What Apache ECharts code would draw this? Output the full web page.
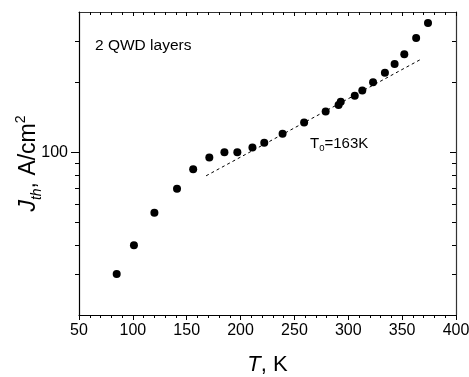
<!DOCTYPE html>
<html>
<head>
<meta charset="utf-8">
<script src="https://cdn.jsdelivr.net/npm/echarts@6/dist/echarts.min.js"></script>
<style>html,body{margin:0;padding:0;background:#fff}#c{width:469px;height:377px}</style>
</head>
<body>
<div id="c"></div>
<script>
// Measured data: temperature T (K) and threshold current density Jth (A/cm^2)
var temps = [85, 101, 120, 141, 156, 171, 185, 197, 211, 222, 239, 259, 279, 291, 293, 306, 313, 323, 334, 343, 352, 363, 374];
var jth = [30.0, 39.9, 55.0, 69.7, 84.6, 94.8, 100, 100, 104.8, 109.7, 119.9, 134.3, 149.7, 159.6, 164.5, 174.6, 184.3, 199.8, 219.4, 239.2, 263.7, 309.7, 359.2];
// T0 = 163 K exponential fit (dashed line end points)
var fitT = [168, 367];
var fitJ = [79.2, 250];
// axis ticks
var xTicks = [50, 100, 150, 200, 250, 300, 350, 400];
var yLabelTicks = [100];
var yMinorTicks = [30, 40, 50, 60, 70, 80, 90, 200, 300];

var FONT = 'Liberation Sans, Arial, sans-serif';
var chart = echarts.init(document.getElementById('c'), null, {renderer: 'canvas'});

function yAxisCfg(pos, inside, ticks, len, labels, showLine) {
  return {
    type: 'log', logBase: 10, min: 20, max: 400, position: pos,
    axisLine: {show: showLine, lineStyle: {color: pos === 'left' ? '#000' : '#333', width: 1.2}},
    axisTick: {show: true, inside: inside, length: len, customValues: ticks, lineStyle: {color: '#000', width: 1}},
    minorTick: {show: false},
    axisLabel: labels ? {show: true, customValues: labels, fontSize: 16, color: '#000', fontFamily: FONT, margin: 11} : {show: false},
    splitLine: {show: false}
  };
}

var xData = temps.map(function (t, i) { return [t, jth[i]]; });
var fitData = fitT.map(function (t, i) { return [t, fitJ[i]]; });

chart.setOption({
  animation: false,
  backgroundColor: '#fff',
  grid: {left: 79, right: 13, top: 12, bottom: 62, containLabel: false, outerBoundsMode: 'none'},
  xAxis: [
    {
      type: 'value', min: 50, max: 400, interval: 50, position: 'bottom',
      axisLine: {lineStyle: {color: '#000', width: 1.2}},
      axisTick: {length: 5, lineStyle: {color: '#000'}},
      minorTick: {show: true, splitNumber: 5, length: 3, lineStyle: {color: '#000'}},
      axisLabel: {fontSize: 16, color: '#000', fontFamily: FONT, margin: 8,
        formatter: function (v) { return xTicks.indexOf(v) >= 0 ? String(v) : ''; }},
      splitLine: {show: false},
      name: '{i|T}{n|, K}', nameLocation: 'middle', nameGap: 39, nameMoveOverlap: false,
      nameTextStyle: {rich: {
        i: {fontSize: 22, fontStyle: 'italic', fontFamily: FONT, color: '#000'},
        n: {fontSize: 22, fontFamily: FONT, color: '#000'}
      }}
    },
    {
      type: 'value', min: 50, max: 400, interval: 50, position: 'top',
      axisLine: {lineStyle: {color: '#333', width: 1.2}},
      axisTick: {inside: true, length: 4, lineStyle: {color: '#000'}},
      minorTick: {show: true, splitNumber: 5, length: 3, lineStyle: {color: '#000'}},
      axisLabel: {show: false},
      splitLine: {show: false}
    }
  ],
  yAxis: [
    (function () {
      var a = yAxisCfg('left', false, yLabelTicks, 8, yLabelTicks, true);
      a.name = '{i|J}{s|th}{n|, A/cm}{p|2}';
      a.nameLocation = 'middle';
      a.nameRotate = 90;
      a.nameGap = 35;
      a.nameMoveOverlap = false;
      a.nameTextStyle = {rich: {
        i: {fontSize: 23, fontStyle: 'italic', fontFamily: FONT, color: '#000', lineHeight: 30},
        s: {fontSize: 14, fontStyle: 'italic', fontFamily: FONT, color: '#000', verticalAlign: 'bottom', lineHeight: 30},
        n: {fontSize: 23, fontFamily: FONT, color: '#000', lineHeight: 30},
        p: {fontSize: 14, fontFamily: FONT, color: '#000', verticalAlign: 'top', lineHeight: 30}
      }};
      return a;
    })(),
    yAxisCfg('left', false, yMinorTicks, 4, null, false),
    yAxisCfg('right', true, yLabelTicks, 6, null, true),
    yAxisCfg('right', true, yMinorTicks, 4, null, false)
  ],
  graphic: [
    {type: 'text', left: 95, top: 38, style: {text: '2 QWD layers', fontSize: 15.5, fontFamily: FONT, fill: '#000'}},
    {type: 'text', left: 310, top: 136, style: {
      text: '{a|T}{s|0}{a|=163K}',
      rich: {
        a: {fontSize: 15, fontFamily: FONT, fill: '#000', lineHeight: 19},
        s: {fontSize: 9.5, fontFamily: FONT, fill: '#000', verticalAlign: 'bottom', lineHeight: 19}
      }
    }}
  ],
  series: [
    {
      type: 'line', xAxisIndex: 0, yAxisIndex: 0, data: fitData,
      showSymbol: false, symbol: 'none',
      lineStyle: {color: '#000', width: 1, type: [3, 3]},
      silent: true, z: 2
    },
    {
      type: 'scatter', xAxisIndex: 0, yAxisIndex: 0, data: xData,
      symbol: 'circle', symbolSize: 8,
      itemStyle: {color: '#000', opacity: 1}, z: 3
    }
  ]
});
</script>
</body>
</html>
